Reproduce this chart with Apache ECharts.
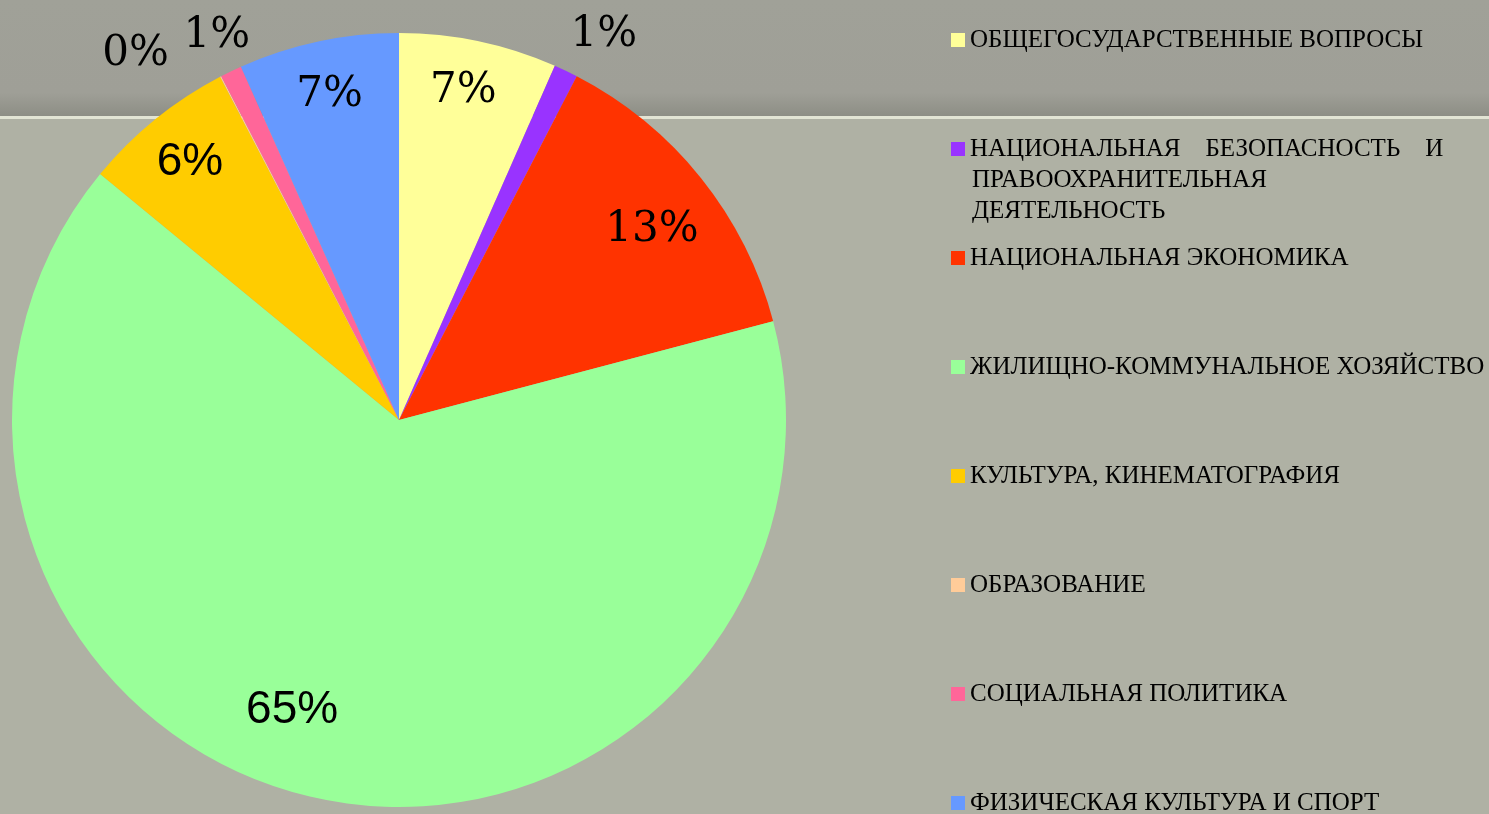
<!DOCTYPE html>
<html>
<head>
<meta charset="utf-8">
<style>
  html, body { margin: 0; padding: 0; }
  #chart { width: 1489px; height: 814px; }
</style>
<script src="https://cdn.jsdelivr.net/npm/echarts@6/dist/echarts.min.js"></script>
</head>
<body>
<div id="chart"></div>
<script>
// categories, in pie order (clockwise from 12 o'clock)
var categories = [
  "ОБЩЕГОСУДАРСТВЕННЫЕ ВОПРОСЫ",
  "НАЦИОНАЛЬНАЯ БЕЗОПАСНОСТЬ И ПРАВООХРАНИТЕЛЬНАЯ ДЕЯТЕЛЬНОСТЬ",
  "НАЦИОНАЛЬНАЯ ЭКОНОМИКА",
  "ЖИЛИЩНО-КОММУНАЛЬНОЕ ХОЗЯЙСТВО",
  "КУЛЬТУРА, КИНЕМАТОГРАФИЯ",
  "ОБРАЗОВАНИЕ",
  "СОЦИАЛЬНАЯ ПОЛИТИКА",
  "ФИЗИЧЕСКАЯ КУЛЬТУРА И СПОРТ"
];
// share of spending, %
var shares = [6.6, 1.0, 13.3, 65.1, 6.4, 0.05, 0.9, 6.7];

var colors = ["#ffff99", "#9933ff", "#ff3300", "#99ff99", "#ffcc00", "#ffcc99", "#ff6699", "#6699ff"];
var outsideLabel = [false, true, false, false, false, true, true, false];
var sansLabel = [false, false, false, true, true, false, false, false];
// nudges for labels that Excel moved off their slice centre
var labelNudge = { 0: [-4, -4], 1: [20, 2], 2: [-6, 18], 3: [-36, -34], 5: [-66, 15], 6: [4, 2] };

var total = shares.reduce(function (a, b) { return a + b; }, 0);
var pct = function (v) { return Math.round(v / total * 100) + "%"; };

var cx = 399, cy = 420, R = 387;

var chart = echarts.init(document.getElementById("chart"));

var pieData = categories.map(function (name, i) {
  return { name: name, value: shares[i], itemStyle: { color: colors[i] } };
});

function labelData(outer) {
  return categories.map(function (name, i) {
    var d = {
      name: name,
      value: shares[i],
      label: sansLabel[i]
        ? { show: outsideLabel[i] === outer, fontFamily: "Liberation Sans", fontSize: 46 }
        : { show: outsideLabel[i] === outer }
    };
    if (labelNudge[i]) d.label.offset = labelNudge[i];
    return d;
  });
}

var labelSeries = function (radius, outer) {
  return {
    type: "pie",
    silent: true,
    center: [cx, cy],
    radius: radius,
    startAngle: 90,
    clockwise: true,
    avoidLabelOverlap: false,
    minShowLabelAngle: 0,
    itemStyle: { color: "rgba(0,0,0,0)", borderWidth: 0 },
    emphasis: { disabled: true },
    labelLine: { show: false },
    label: {
      position: "inside",
      color: "#000",
      fontFamily: "DejaVu Serif",
      fontSize: 42,
      formatter: function (p) { return pct(p.value); }
    },
    data: labelData(outer)
  };
};

chart.setOption({
  animation: false,
  graphic: [
    {
      type: "rect", z: -10, silent: true,
      shape: { x: 0, y: 0, width: 1489, height: 116 },
      style: {
        fill: new echarts.graphic.LinearGradient(0, 0, 0, 1, [
          { offset: 0, color: "#a0a198" },
          { offset: 0.8, color: "#9f9f97" },
          { offset: 1, color: "#8d8e85" }
        ])
      }
    },
    { type: "rect", z: -10, silent: true, shape: { x: 0, y: 116, width: 1489, height: 3 }, style: { fill: "#e2e4d4" } },
    { type: "rect", z: -10, silent: true, shape: { x: 0, y: 119, width: 1489, height: 695 }, style: { fill: "#afb1a4" } },
    {
      type: "text", left: 972, top: 165, silent: true,
      style: {
        text: "ПРАВООХРАНИТЕЛЬНАЯ\nДЕЯТЕЛЬНОСТЬ",
        font: "25px 'Liberation Serif'",
        lineHeight: 31,
        fill: "#000"
      }
    }
  ],
  legend: {
    orient: "vertical",
    left: 951,
    top: 25,
    height: 900,
    padding: 0,
    itemWidth: 14,
    itemHeight: 14,
    itemGap: 79,
    icon: "rect",
    selectedMode: false,
    data: categories,
    textStyle: {
      fontFamily: "Liberation Serif",
      fontSize: 25,
      lineHeight: 30,
      color: "#000"
    },
    formatter: function (name) {
      if (name === categories[1]) return "НАЦИОНАЛЬНАЯ    БЕЗОПАСНОСТЬ    И";
      return name;
    }
  },
  series: [
    {
      type: "pie",
      center: [cx, cy],
      radius: R,
      startAngle: 90,
      clockwise: true,
      label: { show: false },
      labelLine: { show: false },
      emphasis: { disabled: true },
      itemStyle: { borderWidth: 0 },
      data: pieData
    },
    labelSeries([R * 0.7, R], false),
    labelSeries([R, R * 1.2], true)
  ]
});
</script>
</body>
</html>
